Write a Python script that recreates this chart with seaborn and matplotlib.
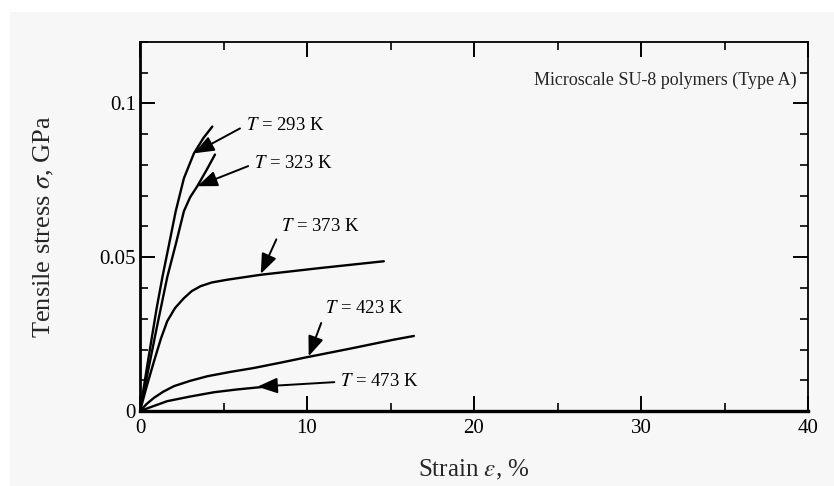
import numpy as np
import pandas as pd
import matplotlib
matplotlib.use("Agg")
import matplotlib.pyplot as plt
from matplotlib.ticker import MultipleLocator
import seaborn as sns

# values (strain in %, stress in GPa)
strain_293 = [0, 0.5, 1.0, 1.34, 1.74, 2.14, 2.63, 3.23, 3.8, 4.33]
stress_293 = [0, 0.017, 0.0335, 0.0435, 0.0542, 0.065, 0.0757, 0.0838, 0.0888, 0.0925]
strain_323 = [0, 0.5, 1.0, 1.63, 2.14, 2.63, 3.0, 3.43, 4.0, 4.49]
stress_323 = [0, 0.0135, 0.027, 0.0435, 0.0542, 0.065, 0.0695, 0.0731, 0.0785, 0.0834]
strain_373 = [0, 0.4, 0.84, 1.25, 1.63, 2.1, 2.63, 3.1, 3.63, 4.3, 5.23, 7.23, 10.8, 14.6]
stress_373 = [0, 0.008, 0.0162, 0.0235, 0.0292, 0.0335, 0.0367, 0.0390, 0.0406, 0.0418, 0.0427, 0.0443, 0.0465, 0.0487]
strain_423 = [0, 0.4, 0.84, 1.4, 2.04, 3.0, 4.03, 5.4, 6.83, 8.4, 10.0, 12.6, 15.2, 16.4]
stress_423 = [0, 0.0023, 0.0043, 0.0063, 0.0081, 0.0098, 0.0113, 0.0127, 0.0140, 0.0157, 0.0175, 0.0203, 0.0232, 0.0244]
strain_473 = [0, 1.63, 3.0, 4.43, 5.8, 7.3]
stress_473 = [0, 0.0032, 0.0047, 0.0061, 0.0070, 0.0078]

temps = ["293", "323", "373", "423", "473"]
curves = {"293": (strain_293, stress_293), "323": (strain_323, stress_323),
          "373": (strain_373, stress_373), "423": (strain_423, stress_423),
          "473": (strain_473, stress_473)}

# label anchor (left edge of text) and arrow tip
label_pos = {"293": (6.33, 0.0929), "323": (6.83, 0.0804), "373": (8.43, 0.0601),
             "423": (11.1, 0.0333), "473": (12.0, 0.0095)}
arrow_tip = {"293": (3.23, 0.0838), "323": (3.43, 0.0731), "373": (7.23, 0.0446),
             "423": (10.1, 0.0178), "473": (7.03, 0.0079)}
arrow_rel = {"293": (0, 0.5), "323": (0, 0.5), "373": (0, 0.3), "423": (0, 0.3), "473": (0, 0.5)}

sns.set_style("ticks")
plt.rcParams["font.family"] = ["Liberation Serif", "DejaVu Serif"]
plt.rcParams["mathtext.fontset"] = "stix"

bg = "#f7f7f7"
fig = plt.figure(figsize=(8.34, 4.86), dpi=100, facecolor=bg)
# white scan margins (top and left)
fig.patches.append(plt.Rectangle((0, 1 - 12 / 486), 1, 12 / 486, transform=fig.transFigure,
                                 facecolor="white", edgecolor="none", zorder=-1))
fig.patches.append(plt.Rectangle((0, 0), 10 / 834, 1, transform=fig.transFigure,
                                 facecolor="white", edgecolor="none", zorder=-1))
ax = fig.add_axes([140 / 834, 1 - 411 / 486, 668 / 834, 369 / 486])
ax.set_facecolor(bg)

for t in temps:
    xs, ys = curves[t]
    df = pd.DataFrame({"strain": xs, "stress": ys})
    sns.lineplot(data=df, x="strain", y="stress", sort=False, estimator=None,
                 color="black", lw=1.7, ax=ax)
    ax.annotate(r"$\it{T}$ = " + t + " K", xy=arrow_tip[t], xytext=label_pos[t],
                ha="left", va="center", fontsize=13.5, color="black",
                arrowprops=dict(arrowstyle="-|>,head_length=0.9,head_width=0.35",
                                color="black", lw=1.4, shrinkA=2, shrinkB=0,
                                relpos=arrow_rel[t]))

ax.set_xlim(0, 40)
ax.set_ylim(0, 0.12)
ax.xaxis.set_major_locator(MultipleLocator(10))
ax.xaxis.set_minor_locator(MultipleLocator(5))
ax.set_yticks([0, 0.05, 0.1])
ax.set_yticklabels(["0", "0.05", "0.1"])
ax.yaxis.set_minor_locator(MultipleLocator(0.01))
ax.tick_params(which="both", direction="in", top=True, right=True, labelsize=15,
               color="black", labelcolor="black")
ax.tick_params(which="major", length=11, width=1.4)
ax.tick_params(which="minor", length=6, width=1.2)
ax.tick_params(axis="x", pad=6)
ax.tick_params(axis="y", pad=3)

for side, w in {"left": 2.0, "bottom": 2.4, "top": 1.3, "right": 1.3}.items():
    ax.spines[side].set_visible(True)
    ax.spines[side].set_linewidth(w)
    ax.spines[side].set_color("black")

ax.set_xlabel(r"Strain $\it{\varepsilon}$, %", fontsize=18, labelpad=14)
ax.set_ylabel(r"Tensile stress $\it{\sigma}$, GPa", fontsize=19, labelpad=31)
ax.text(0.983, 0.897, "Microscale SU-8 polymers (Type A)", transform=ax.transAxes,
        ha="right", va="center", fontsize=13)

fig.savefig("out.png", dpi=100, facecolor=bg)
